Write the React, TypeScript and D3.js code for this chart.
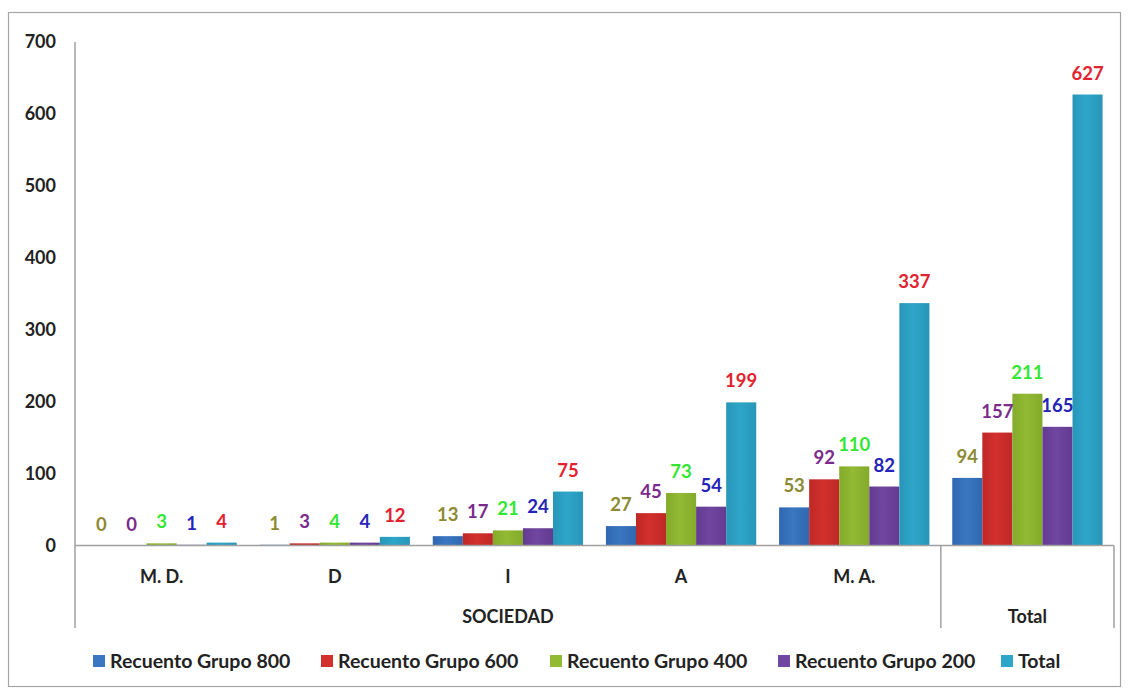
import React from "react";
import * as d3 from "d3";

const categories = ["M. D.", "D", "I", "A", "M. A.", "Total"];
const seriesNames = ["Recuento Grupo 800", "Recuento Grupo 600", "Recuento Grupo 400", "Recuento Grupo 200", "Total"];
const grupo800 = [0, 1, 13, 27, 53, 94];
const grupo600 = [0, 3, 17, 45, 92, 157];
const grupo400 = [3, 4, 21, 73, 110, 211];
const grupo200 = [1, 4, 24, 54, 82, 165];
const totalSeries = [4, 12, 75, 199, 337, 627];
const yTicks = [0, 100, 200, 300, 400, 500, 600, 700];
const groupLabel = "SOCIEDAD";
const totalLabel = "Total";

const barColors = ["#3A76C2", "#D2302D", "#92BA33", "#7046A0", "#2EA6C9"];
const barColorsDark = ["#3068B0", "#BE2826", "#84AA2B", "#633B90", "#2896B8"];
const labelColors = ["#8C8A32", "#7A2B8C", "#33E633", "#2424B8", "#E2222E"];

export default function App() {
  const W = 1129, H = 688;
  const left = 75, right = 1114, top = 42, base = 545.5;
  const font = "Lato, 'Open Sans', sans-serif";
  const allSeries = [grupo800, grupo600, grupo400, grupo200, totalSeries];

  const y = d3.scaleLinear().domain([0, 700]).range([base, top]);
  const x0 = d3.scaleBand<string>().domain(categories).range([left, right]).paddingInner(0).paddingOuter(0);
  const x1 = d3.scaleBand<string>().domain(seriesNames).range([0, x0.bandwidth()]).paddingInner(0).paddingOuter(0.38);

  const sepX = x0("Total")!;
  const legendX = [93, 321, 550, 778, 1001];

  return (
    <svg width={W} height={H} style={{ position: "absolute", left: 0, top: 0, background: "#fff" }} fontFamily={font}>
      <defs>
        {barColors.map((c, i) => (
          <linearGradient key={i} id={`g${i}`} x1="0" x2="1" y1="0" y2="0">
            <stop offset="0" stopColor={barColorsDark[i]} />
            <stop offset="0.45" stopColor={c} />
            <stop offset="1" stopColor={barColorsDark[i]} />
          </linearGradient>
        ))}
      </defs>
      <rect x={8.5} y={12.5} width={1112} height={674} fill="#fff" stroke="#a6a6a6" strokeWidth={1.2} />
      {/* y tick labels */}
      {yTicks.map((t) => (
        <text key={t} x={56} y={y(t)} dy="0.35em" textAnchor="end" fontSize={18} fontWeight="bold" fill="#222">
          {t}
        </text>
      ))}
      {/* bars */}
      {categories.map((cat, ci) => (
        <g key={cat} transform={`translate(${x0(cat)},0)`}>
          {allSeries.map((s, si) => {
            const v = s[ci];
            const bx = x1(seriesNames[si])!;
            const bw = x1.bandwidth();
            return (
              <rect key={si} x={bx} y={y(v)} width={bw} height={Math.max(0, base - y(v))} fill={`url(#g${si})`} />
            );
          })}
        </g>
      ))}
      {/* data labels */}
      {categories.map((cat, ci) => (
        <g key={cat + "l"} transform={`translate(${x0(cat)},0)`}>
          {allSeries.map((s, si) => {
            const v = s[ci];
            const cx = x1(seriesNames[si])! + x1.bandwidth() / 2;
            return (
              <text key={si} x={cx} y={y(v) - 15} textAnchor="middle" fontSize={18.5} fontWeight="bold" fill={labelColors[si]}>
                {v}
              </text>
            );
          })}
        </g>
      ))}
      {/* axes */}
      <line x1={left} x2={left} y1={top} y2={628} stroke="#a0a0a0" strokeWidth={1.5} />
      <line x1={left} x2={right} y1={base} y2={base} stroke="#a0a0a0" strokeWidth={1.5} />
      <line x1={sepX} x2={sepX} y1={base} y2={628} stroke="#a0a0a0" strokeWidth={1.5} />
      <line x1={right} x2={right} y1={base} y2={628} stroke="#a0a0a0" strokeWidth={1.5} />
      {categories.slice(0, 5).map((cat) => (
        <text key={cat} x={x0(cat)! + x0.bandwidth() / 2} y={577} dy="0.35em" textAnchor="middle" fontSize={18} fontWeight="bold" fill="#222">
          {cat}
        </text>
      ))}
      <text x={(left + sepX) / 2} y={617} dy="0.35em" textAnchor="middle" fontSize={18} fontWeight="bold" fill="#222">
        {groupLabel}
      </text>
      <text x={x0("Total")! + x0.bandwidth() / 2} y={617} dy="0.35em" textAnchor="middle" fontSize={18} fontWeight="bold" fill="#222">
        {totalLabel}
      </text>
      {/* legend */}
      {seriesNames.map((n, i) => (
        <g key={n} transform={`translate(${legendX[i]},661)`}>
          <rect x={0} y={-6} width={12} height={12} fill={barColors[i]} />
          <text x={17} y={0} dy="0.35em" fontSize={19.5} fontWeight="bold" fill="#222">
            {n}
          </text>
        </g>
      ))}
    </svg>
  );
}
